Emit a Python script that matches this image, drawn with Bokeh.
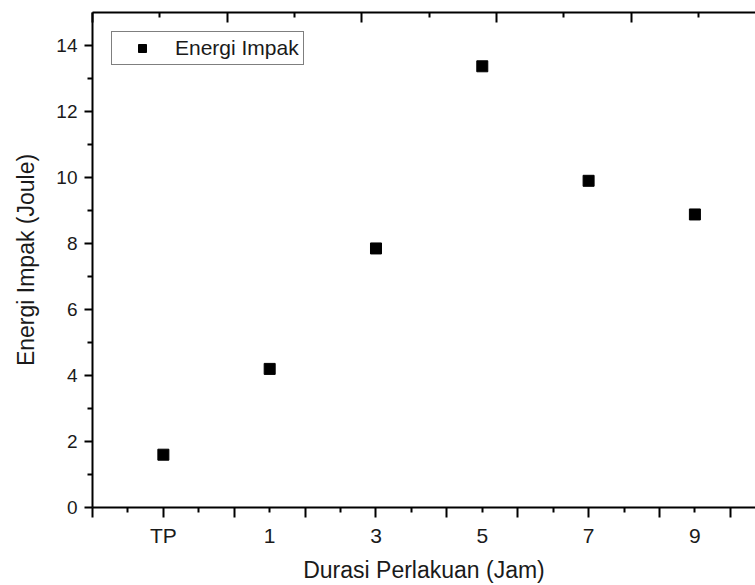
from bokeh.plotting import figure
from bokeh.models import LinearAxis, FixedTicker, Range1d, Legend, LegendItem
from bokeh.embed import file_html
from bokeh.resources import INLINE

# ---- data ----
categories = ["TP", "1", "3", "5", "7", "9"]
energi_impak = [1.6, 4.2, 7.85, 13.37, 9.9, 8.88]
y_major_ticks = [0, 2, 4, 6, 8, 10, 12, 14]
y_minor_ticks = [1, 3, 5, 7, 9, 11, 13]

xs = list(range(1, len(categories) + 1))

FONT = "Liberation Sans"
TXT = "#1a1a1a"

x_start, x_end = 1 / 3, 6.57
p = figure(width=755, height=585,
           x_range=Range1d(x_start, x_end), y_range=Range1d(0, 15),
           x_axis_type=None, y_axis_type=None,
           output_backend="svg", toolbar_location=None,
           min_border_left=92, min_border_top=12, min_border_right=0,
           min_border_bottom=77)
p.outline_line_color = None
p.background_fill_color = "white"
p.border_fill_color = "white"

common = dict(axis_line_width=2, major_tick_line_width=2, minor_tick_line_width=2,
              axis_line_color="black", major_tick_line_color="black",
              minor_tick_line_color="black")

# bottom tick axis (ticks every 1/3, major at odd thirds)
ax_ticks = LinearAxis(
    ticker=FixedTicker(ticks=[k / 3 for k in range(1, 20, 2)],
                       minor_ticks=[k / 3 for k in range(2, 20, 2)]),
    major_tick_out=10, major_tick_in=0, minor_tick_out=5, minor_tick_in=0,
    major_label_text_font_size="0px", major_label_text_alpha=0,
    major_label_standoff=0, **common)
p.add_layout(ax_ticks, "below")

# bottom label axis
ax_lab = LinearAxis(
    ticker=FixedTicker(ticks=xs, minor_ticks=[]),
    major_label_overrides={x: c for x, c in zip(xs, categories)},
    axis_line_color=None, major_tick_line_color=None, minor_tick_line_color=None,
    major_tick_out=0, major_tick_in=0,
    major_label_standoff=6,
    major_label_text_font=FONT, major_label_text_font_size="21px",
    major_label_text_color=TXT,
    axis_label="Durasi Perlakuan (Jam)", axis_label_standoff=7,
    axis_label_text_font=FONT, axis_label_text_font_size="23px",
    axis_label_text_font_style="normal", axis_label_text_color=TXT)
p.add_layout(ax_lab, "below")

# left axis
ay = LinearAxis(
    ticker=FixedTicker(ticks=y_major_ticks, minor_ticks=y_minor_ticks),
    major_tick_out=8, major_tick_in=0, minor_tick_out=5, minor_tick_in=0,
    major_label_standoff=7,
    major_label_text_font=FONT, major_label_text_font_size="19px",
    major_label_text_color=TXT,
    axis_label="Energi Impak (Joule)", axis_label_standoff=14,
    axis_label_text_font=FONT, axis_label_text_font_size="23px",
    axis_label_text_font_style="normal", axis_label_text_color=TXT,
    **common)
p.add_layout(ay, "left")

# top axis (inward ticks)
top_end = 5 * (x_end - x_start) / (19 / 3)
p.extra_x_ranges = {"top": Range1d(0, top_end)}
atop = LinearAxis(
    x_range_name="top",
    ticker=FixedTicker(ticks=[0, 1, 2, 3, 4], minor_ticks=[0.5, 1.5, 2.5, 3.5, 4.5]),
    major_tick_in=10, major_tick_out=0, minor_tick_in=5, minor_tick_out=0,
    major_label_text_font_size="0px", major_label_text_alpha=0,
    major_label_standoff=0, **common)
p.add_layout(atop, "above")

r = p.scatter(x=xs, y=energi_impak, marker="square", size=11,
              fill_color="black", line_color="black")

legend = Legend(items=[LegendItem(label="Energi Impak", renderers=[r])],
                location="top_left", margin=19, padding=4, spacing=0,
                glyph_width=52, glyph_height=20, label_height=20,
                label_standoff=7, label_text_font=FONT,
                label_text_font_size="21px", label_text_color=TXT,
                border_line_color="black", border_line_width=1,
                background_fill_color="white", background_fill_alpha=1)
p.add_layout(legend)

open("out.html", "w").write(file_html(p, INLINE))
